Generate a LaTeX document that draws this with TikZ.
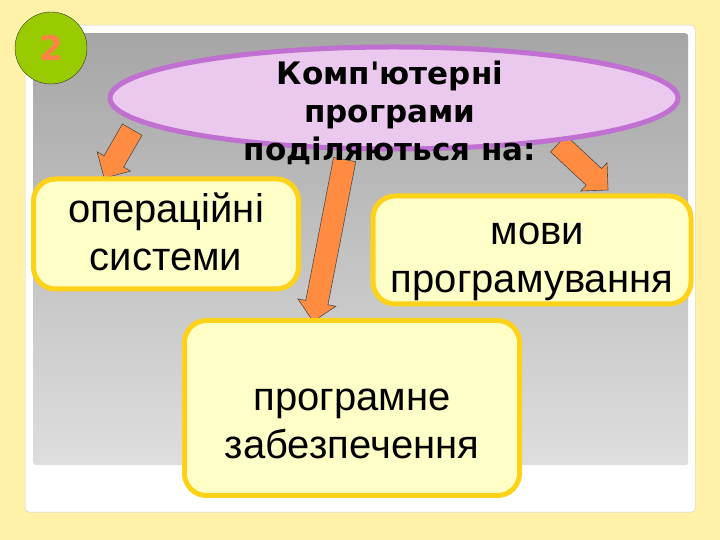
\documentclass[tikz,border=0pt]{standalone}
\usepackage{fontspec}
\setmainfont{Liberation Sans}
\newfontfamily\boldf{DejaVu Sans}
\usetikzlibrary{shapes.arrows,shapes.geometric}
\definecolor{bgy}{HTML}{FFF2A8}
\definecolor{boxb}{HTML}{FFD21A}
\definecolor{boxf}{HTML}{FFFFC8}
\definecolor{arr}{HTML}{FF8C40}
\definecolor{elf}{HTML}{EBC8EE}
\definecolor{eld}{HTML}{C070D0}
\tikzset{
 bx/.style={draw=boxb,line width=5pt,fill=boxf,rounded corners=22pt},
 bxt/.style={align=center,font=\fontsize{40}{48}\selectfont},
 barrow/.style={single arrow,draw=black!70,fill=arr,line width=0.6pt,single arrow head extend=8pt,inner xsep=0pt,inner ysep=11pt}
}
\begin{document}
\begin{tikzpicture}[x=1pt,y=1pt]
\fill[bgy] (0,0) rectangle (720,540);
\useasboundingbox (0,0) rectangle (720,540);
\node[draw=black!20,fill=white,rounded corners=4pt,minimum width=670,minimum height=487,anchor=north west] (frame) at (25,515) {};
\node[rounded corners=3pt,minimum width=655,minimum height=432,anchor=north west,top color=black!35,bottom color=black!13,inner sep=0] (panel) at (33,507) {};
\node[barrow,minimum height=56pt,rotate=240] (a1) at (121,391) {};
\node[barrow,minimum height=165pt,rotate=259] (a2) at (330,305) {};
\node[barrow,minimum height=68pt,rotate=-43] (a3) at (579,377) {};
\node[ellipse,draw=eld,fill=elf,line width=5pt,minimum width=568,minimum height=102] (el) at (394,442) {};
\node[align=center,font=\boldf\bfseries\fontsize{31}{38}\selectfont] (t) at (390,427) {Комп'ютерні\\програми\\поділяються на:};
\node[bx,minimum width=265,minimum height=110] (b1) at (166,306) {};
\node[bxt] (t1) at (b1.center) [yshift=2pt] {операційні\\системи};
\node[bx,minimum width=318,minimum height=108] (b2) at (532,290) {};
\node[bxt] (t2) at (b2.center) [yshift=-12pt] {\ мови\\програмування};
\node[bx,minimum width=335,minimum height=175] (b3) at (352,132) {};
\node[bxt] (t3) at (b3.center) [yshift=-16pt] {програмне\\забезпечення};
\node[circle,draw=black!80,fill={rgb,255:red,153;green,204;blue,0},minimum size=72,inner sep=0,font=\boldf\bfseries\fontsize{34}{38}\selectfont,text={rgb,255:red,255;green,130;blue,70}] (n2) at (51,492) {2};
\end{tikzpicture}
\end{document}
